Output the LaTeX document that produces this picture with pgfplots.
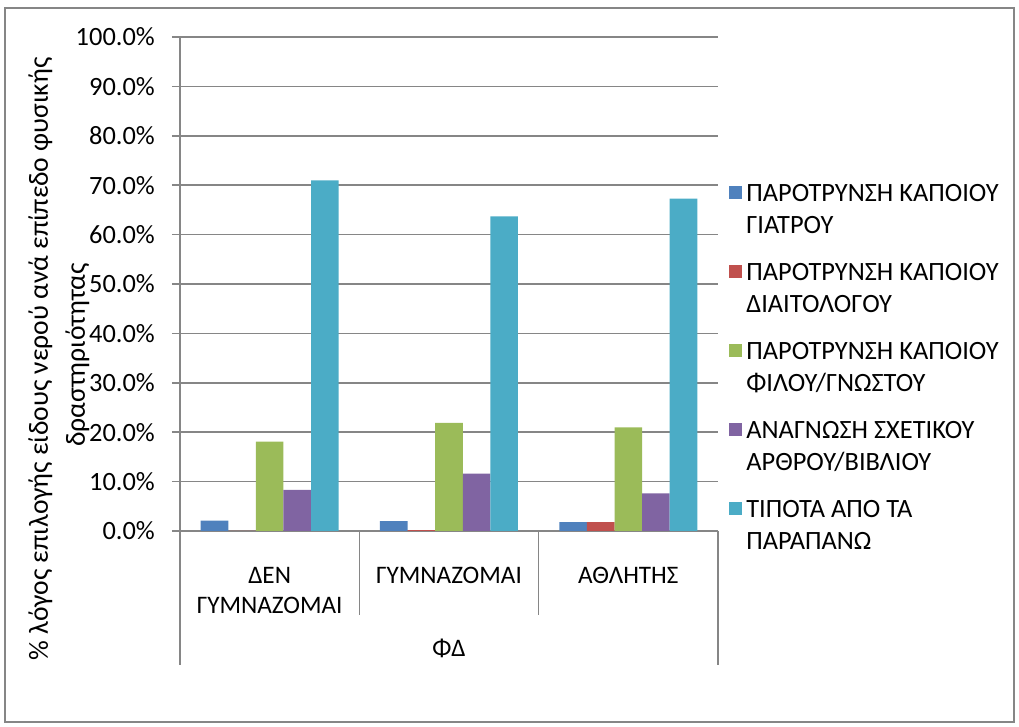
\documentclass[border=0pt]{standalone}
\usepackage{pgfplots}
\pgfplotsset{compat=1.18}
\usepackage{fontspec}
\setmainfont{Carlito}
\definecolor{sA}{HTML}{4F81BD}
\definecolor{sB}{HTML}{C0504D}
\definecolor{sC}{HTML}{9BBB59}
\definecolor{sD}{HTML}{8064A2}
\definecolor{sE}{HTML}{4BACC6}
\definecolor{gridc}{HTML}{868686}
\newcommand\cf{\fontsize{13.2}{16}\selectfont}
\newcommand\xf{\fontsize{12.6}{15}\selectfont}
\newcommand\yf{\fontsize{13.8}{17}\selectfont}
\newcommand\cat[1]{\begin{tabular}[t]{@{}c@{}}#1\end{tabular}}

\begin{document}
\cf
\begin{tikzpicture}
\begin{axis}[
  scale only axis, width=269pt, height=247pt,
  xmin=-0.5, xmax=2.5, ymin=0, ymax=100,
  ybar=0pt, bar width=13.8pt,
  clip=false,
  axis x line*=bottom, axis y line*=left,
  axis line style={draw=gridc, line width=0.75pt, -},
  xtick={0,1,2},
  xticklabels={\cat{ΔΕΝ\\ΓΥΜΝΑΖΟΜΑΙ},\cat{ΓΥΜΝΑΖΟΜΑΙ},\cat{ΑΘΛΗΤΗΣ}},
  x tick label style={font=\xf, anchor=base, inner sep=0pt},
  xticklabel shift=22.3pt,
  major x tick style={draw=none},
  ytick={0,10,...,100},
  ymajorgrids, grid style={draw=gridc, line width=0.75pt},
  major y tick style={draw=gridc, line width=0.75pt},
  tick align=outside, major tick length=4pt,
  y tick label style={font=\cf, xshift=-4pt},
  yticklabel={\pgfmathprintnumber[fixed,fixed zerofill,precision=1,assume math mode=true]{\tick}\%},
  every axis plot post/.append style={
    legend image code/.code={\fill[##1] (0pt,1pt) rectangle (6.5pt,7.5pt);}},
  legend style={at={(axis description cs:1,0.72)}, anchor=north west,
    xshift=2.5pt, yshift=0.5pt, draw=none, fill=none, font=\cf,
    nodes={inner sep=0pt, anchor=base west, text height=11.2pt, text depth=20.8pt},
    column sep=2pt, row sep=7.5pt},
  legend cell align=left,
]
\addplot[fill=sA, draw=none] coordinates {(0,2.1) (1,2.0) (2,1.8)};
\addplot[fill=sB, draw=none] coordinates {(0,0) (1,0.2) (2,1.8)};
\addplot[fill=sC, draw=none] coordinates {(0,18.1) (1,21.9) (2,21.0)};
\addplot[fill=sD, draw=none] coordinates {(0,8.3) (1,11.6) (2,7.6)};
\addplot[fill=sE, draw=none] coordinates {(0,71.0) (1,63.7) (2,67.3)};
\legend{
  \parbox[t]{140pt}{ΠΑΡΟΤΡΥΝΣΗ ΚΑΠΟΙΟΥ\\ΓΙΑΤΡΟΥ},
  \parbox[t]{140pt}{ΠΑΡΟΤΡΥΝΣΗ ΚΑΠΟΙΟΥ\\ΔΙΑΙΤΟΛΟΓΟΥ},
  \parbox[t]{140pt}{ΠΑΡΟΤΡΥΝΣΗ ΚΑΠΟΙΟΥ\\ΦΙΛΟΥ/ΓΝΩΣΤΟΥ},
  \parbox[t]{140pt}{ΑΝΑΓΝΩΣΗ ΣΧΕΤΙΚΟΥ\\ΑΡΘΡΟΥ/ΒΙΒΛΙΟΥ},
  \parbox[t]{140pt}{ΤΙΠΟΤΑ ΑΠΌ ΤΑ\\ΠΑΡΑΠΑΝΩ}}
% category separators of the two-level category axis
\draw[gridc, line width=0.75pt] (axis cs:-0.5,0) -- ++(0pt,-67pt);
\draw[gridc, line width=0.75pt] (axis cs:0.5,0) -- ++(0pt,-42pt);
\draw[gridc, line width=0.75pt] (axis cs:1.5,0) -- ++(0pt,-42pt);
\draw[gridc, line width=0.75pt] (axis cs:2.5,0) -- ++(0pt,-67pt);
\node[font=\xf, anchor=base] at ([yshift=-63pt]axis cs:1,0) {ΦΔ};
\end{axis}
\node[font=\yf, rotate=90, anchor=base] at (-66pt,86pt)
  {\% λόγος επιλογής είδους νερού ανά επίπεδο φυσικής};
\node[font=\yf, rotate=90, anchor=base] at (-47.5pt,88pt) {δραστηριότητας};
\draw[gridc, line width=0.9pt] (-87.5pt,-95.5pt) rectangle (417pt,261.5pt);
\pgfresetboundingbox
\path[use as bounding box] (-90pt,-98pt) rectangle (419.5pt,265.5pt);
\end{tikzpicture}
\end{document}
